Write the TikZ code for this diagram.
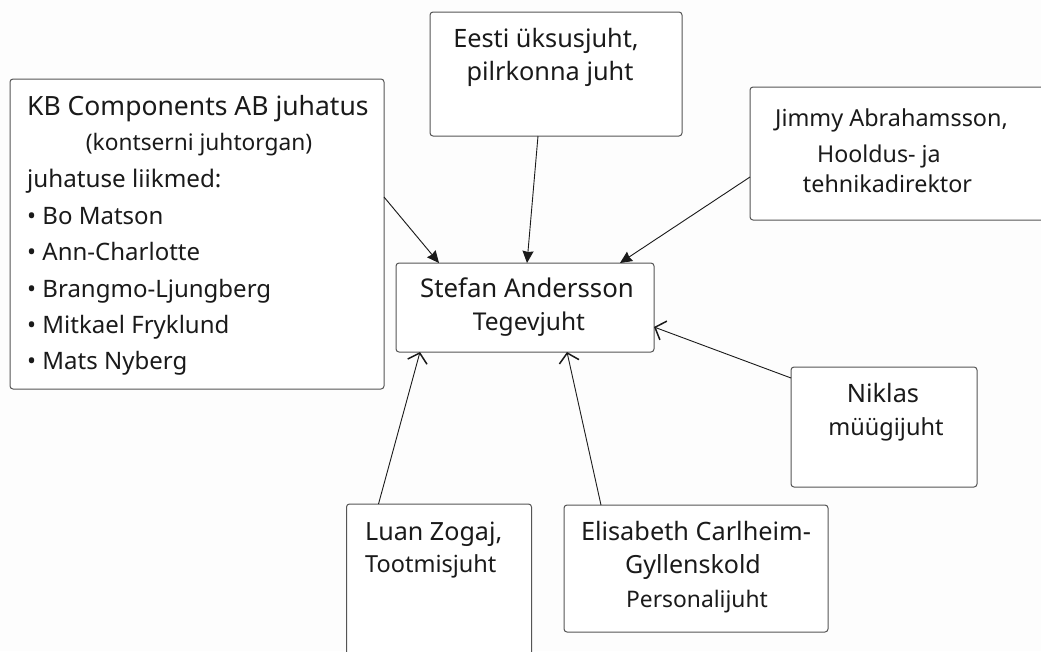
\documentclass[tikz,border=0pt]{standalone}
\usepackage{fontspec}
\setmainfont{Noto Sans}
\usetikzlibrary{arrows.meta}
\definecolor{ink}{HTML}{1A1A1A}
\definecolor{boxgray}{HTML}{555555}
\definecolor{bg}{HTML}{FDFDFD}
\newcommand{\tl}[6][base]{\node[lbl,fs=#6,anchor=#1] (#2) at (#3,#4) {#5};}
\begin{document}
\begin{tikzpicture}[x=1pt,y=-1pt,
  box/.style={draw=boxgray, line width=1pt, rounded corners=3pt, fill=white, inner sep=0pt, outer sep=0pt},
  lbl/.style={text=ink, inner sep=0pt},
  fs/.style={font=\fontsize{#1}{#1}\selectfont},
  con/.style={draw=ink, line width=0.9pt},
  tipA/.style={-{Stealth[length=12pt,width=11pt,inset=1pt]}},
  tipB/.style={-{Straight Barb[length=9pt,width=20pt,line width=1.5pt]}}]
\fill[bg] (0,0) rectangle (1041,651);
\useasboundingbox (0,0) rectangle (1041,651);
\clip (0,0) rectangle (1041,651);

% boxes
\node[box, minimum width=374pt, minimum height=310pt] (kb) at (197,234) {};
\node[box, minimum width=252pt, minimum height=124pt] (eesti) at (556,74) {};
\node[box, minimum width=300pt, minimum height=133pt] (jimmy) at (900,153.5) {};
\node[box, minimum width=258pt, minimum height=89pt] (stefan) at (525,307.5) {};
\node[box, minimum width=186pt, minimum height=120pt] (niklas) at (884,427) {};
\node[box, minimum width=185pt, minimum height=180pt] (luan) at (439,594) {};
\node[box, minimum width=264pt, minimum height=127pt] (elis) at (696,568.5) {};

% texts
\tl[base west]{kb1}{27}{115}{KB Components AB juhatus}{26.5}
\tl{kb2}{199}{150}{(kontserni juhtorgan)}{22.7}
\tl[base west]{kb3}{27}{187}{juhatuse liikmed:}{24.2}
\tl[base west]{kb4}{27}{224}{•\ Bo Matson}{24}
\tl[base west]{kb5}{27}{260}{•\ Ann-Charlotte}{24}
\tl[base west]{kb6}{27}{297}{•\ Brangmo-Ljungberg}{24}
\tl[base west]{kb7}{27}{333}{•\ Mitkael Fryklund}{24}
\tl[base west]{kb8}{27}{369}{•\ Mats Nyberg}{24}

\tl{ee1}{546}{47}{Eesti üksusjuht,}{25.3}
\tl{ee2}{550}{80}{pilrkonna juht}{25.3}

\tl{st1}{527}{297}{Stefan Andersson}{25.8}
\tl{st2}{529}{330}{Tegevjuht}{24.5}

\tl{ji1}{891.5}{126}{Jimmy Abrahamsson,}{23.4}
\tl[base west]{ji2}{817}{162}{Hooldus- ja}{23.2}
\tl{ji3}{887.5}{192}{tehnikadirektor}{23.3}

\tl{ni1}{883}{402}{Niklas}{25.3}
\tl{ni2}{886}{435}{müügijuht}{23.5}

\tl[base west]{lu1}{365}{540}{Luan Zogaj,}{25.1}
\tl[base west]{lu2}{365}{572}{Tootmisjuht}{23.5}

\tl{el1}{696}{540}{Elisabeth Carlheim-}{25.3}
\tl{el2}{693}{573}{Gyllenskold}{25}
\tl{el3}{697}{607}{Personalijuht}{22.8}

% connectors
\draw[con,tipA] ([yshift=-118pt]kb.north east) -- ([xshift=43pt]stefan.north west);
\draw[con,tipA] ([xshift=108pt]eesti.south west) -- ([xshift=131pt]stefan.north west);
\draw[con,tipA] ([yshift=-90pt]jimmy.north west) -- ([xshift=224pt]stefan.north west);
\draw[con,tipB] ([yshift=-11pt]niklas.north west) -- ([yshift=-64pt]stefan.north east);
\draw[con,tipB] ([xshift=32pt]luan.north west) -- ([xshift=24pt]stefan.south west);
\draw[con,tipB] ([xshift=37pt]elis.north west) -- ([xshift=171pt]stefan.south west);
\end{tikzpicture}
\end{document}
